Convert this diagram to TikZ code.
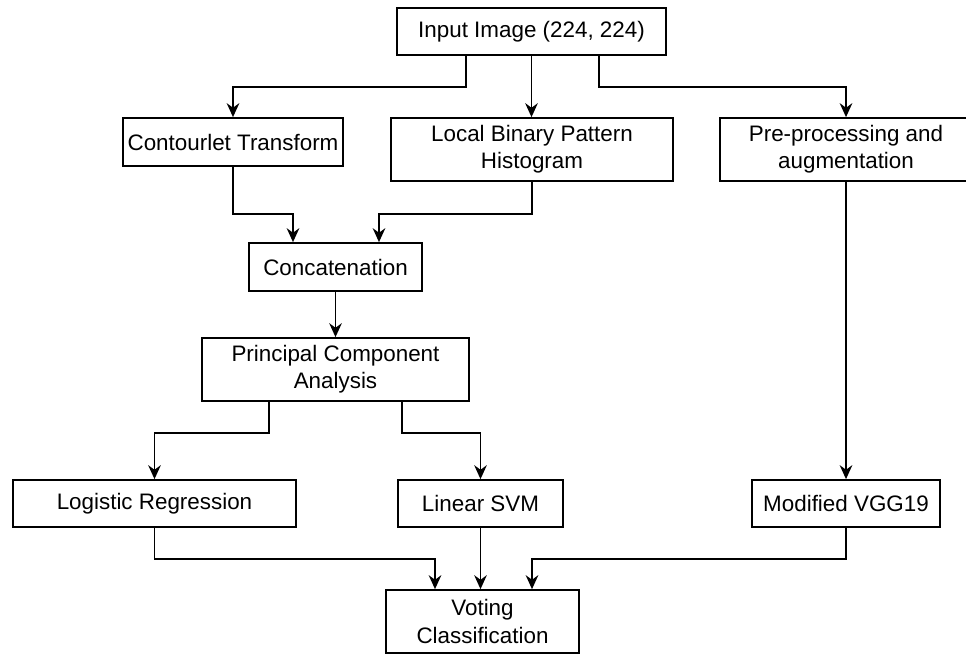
\documentclass[tikz,border=0pt]{standalone}
\usepackage{fontspec}
\setmainfont{Liberation Sans}
\usetikzlibrary{arrows.meta,calc}
\begin{document}
\begin{tikzpicture}[x=0.75pt,y=-0.75pt,
  box/.style={draw=black, line width=1.3pt, align=center, inner sep=0pt, fill=white,
    font=\fontsize{16.8}{20.5}\selectfont},
  arr/.style={draw=black, line width=1.3pt, -{Stealth[length=10.5pt,width=9.5pt,inset=3.5pt]}}]
\useasboundingbox (0,0) rectangle (966,656);
\begin{scope}
\clip (0,0) rectangle (966,656);
\node[box, minimum width=269*0.75pt, minimum height=47*0.75pt] (in) at (531.5,31.5) {Input Image (224, 224)};
\node[box, minimum width=220*0.75pt, minimum height=48*0.75pt] (ct) at (233,142) {Contourlet Transform};
\node[box, minimum width=282*0.75pt, minimum height=63*0.75pt] (lbp) at (532,149.5) {Local Binary Pattern\\Histogram};
\node[box, minimum width=252*0.75pt, minimum height=63*0.75pt] (pre) at (846,149.5) {Pre-processing and\\augmentation};
\node[box, minimum width=173*0.75pt, minimum height=48*0.75pt] (cat) at (335.5,267) {Concatenation};
\node[box, minimum width=267*0.75pt, minimum height=63*0.75pt] (pca) at (335.5,369.5) {Principal Component\\Analysis};
\node[box, minimum width=283*0.75pt, minimum height=47*0.75pt] (lr) at (154.5,503.5) {Logistic Regression};
\node[box, minimum width=165*0.75pt, minimum height=47*0.75pt] (svm) at (480.5,503.5) {Linear SVM};
\node[box, minimum width=188*0.75pt, minimum height=47*0.75pt] (vgg) at (846,503.5) {Modified VGG19};
\node[box, minimum width=193*0.75pt, minimum height=63*0.75pt] (vote) at (482.5,621.5) {Voting\\Classification};

\draw[arr] ($(in.south)+(-65.5,0)$) -- ++(0,31) -| (ct.north);
\draw[arr] (in.south) -- (in.south |- lbp.north);
\draw[arr] ($(in.south)+(67.5,0)$) -- ++(0,31) -| (pre.north);
\draw[arr] (ct.south) -- ++(0,47) -| ($(cat.north)+(-42.5,0)$);
\draw[arr] (lbp.south) -- ++(0,32) -| ($(cat.north)+(43.5,0)$);
\draw[arr] (cat.south) -- (pca.north);
\draw[arr] ($(pca.south)+(-66.5,0)$) -- ++(0,31) -| (lr.north);
\draw[arr] ($(pca.south)+(66.5,0)$) -- ++(0,31) -| (svm.north);
\draw[arr] (pre.south) -- (vgg.north);
\draw[arr] (lr.south) -- ++(0,31) -| ($(vote.north)+(-47.5,0)$);
\draw[arr] (svm.south) -- (svm.south |- vote.north);
\draw[arr] (vgg.south) -- ++(0,31) -| ($(vote.north)+(49.5,0)$);
\end{scope}
\end{tikzpicture}
\end{document}
